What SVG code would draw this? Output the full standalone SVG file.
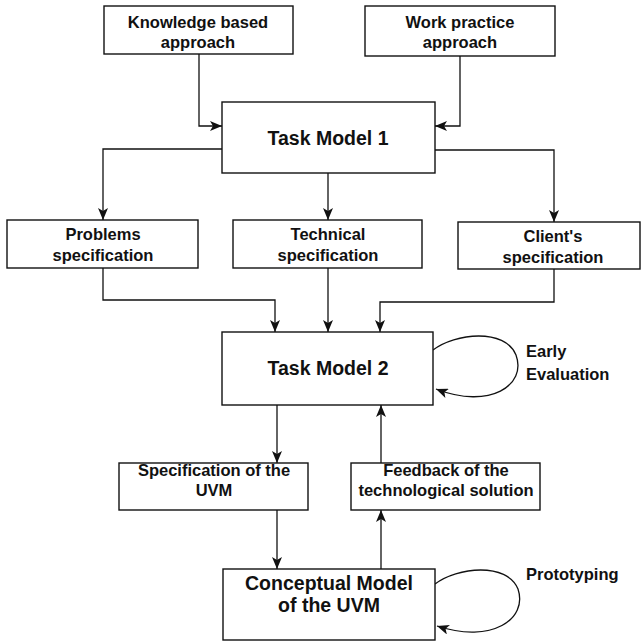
<svg xmlns="http://www.w3.org/2000/svg" width="643" height="641" viewBox="0 0 643 641">
  <style>
    .box { fill: #ffffff; stroke: #111; stroke-width: 1.4; }
    .lbl { font-family: "Liberation Sans", Arial, Helvetica, sans-serif; font-weight: bold; font-size: 16.5px; fill: #111; text-anchor: middle; }
    .big { font-size: 19.5px; }
    .side { text-anchor: start; }
    .wire { fill: none; stroke: #111; stroke-width: 1.3; }
  </style>
  <defs>
    <marker id="arr" viewBox="0 0 12 10" refX="12" refY="5" markerWidth="12" markerHeight="10" orient="auto" markerUnits="userSpaceOnUse">
      <path d="M0,0 L12,5 L0,10 L3,5 z" fill="#111"/>
    </marker>
  </defs>
  <rect width="643" height="641" fill="#ffffff"/>

  <!-- connectors -->
  <g id="connectors">
    <path class="wire" d="M199,54 V126 H222" marker-end="url(#arr)"/>
    <path class="wire" d="M460,56 V126 H435" marker-end="url(#arr)"/>
    <path class="wire" d="M222,149 H103 V220" marker-end="url(#arr)"/>
    <path class="wire" d="M328,173 V220" marker-end="url(#arr)"/>
    <path class="wire" d="M435,150 H554 V222" marker-end="url(#arr)"/>
    <path class="wire" d="M103,268 V300 H275 V332" marker-end="url(#arr)"/>
    <path class="wire" d="M328,268 V332" marker-end="url(#arr)"/>
    <path class="wire" d="M554,269 V302 H380 V332" marker-end="url(#arr)"/>
    <path class="wire" d="M277,405 V463" marker-end="url(#arr)"/>
    <path class="wire" d="M381,463 V405" marker-end="url(#arr)"/>
    <path class="wire" d="M277,510 V569" marker-end="url(#arr)"/>
    <path class="wire" d="M381,569 V510" marker-end="url(#arr)"/>
    <!-- self loops -->
    <path class="wire" d="M433,350 C455,333 505,328 516,355 C527,385 490,410 436,389" marker-end="url(#arr)"/>
    <path class="wire" d="M435,584 C457,567 507,562 518,589 C528,619 492,644 437,626" marker-end="url(#arr)"/>
  </g>

  <g id="knowledge">
    <rect class="box" x="104" y="6" width="189" height="48"/>
    <text class="lbl" x="198" y="28">Knowledge based</text>
    <text class="lbl" x="198" y="48">approach</text>
  </g>
  <g id="workpractice">
    <rect class="box" x="365" y="6" width="190" height="50"/>
    <text class="lbl" x="460" y="28">Work practice</text>
    <text class="lbl" x="460" y="48">approach</text>
  </g>
  <g id="taskmodel1">
    <rect class="box" x="222" y="102" width="213" height="71"/>
    <text class="lbl big" x="328" y="145">Task Model 1</text>
  </g>
  <g id="problems">
    <rect class="box" x="7" y="220" width="191" height="48"/>
    <text class="lbl" x="103" y="240">Problems</text>
    <text class="lbl" x="103" y="261">specification</text>
  </g>
  <g id="technical">
    <rect class="box" x="233" y="220" width="189" height="48"/>
    <text class="lbl" x="328" y="240">Technical</text>
    <text class="lbl" x="328" y="261">specification</text>
  </g>
  <g id="clients">
    <rect class="box" x="458" y="222" width="182" height="47"/>
    <text class="lbl" x="553" y="242">Client's</text>
    <text class="lbl" x="553" y="263">specification</text>
  </g>
  <g id="taskmodel2">
    <rect class="box" x="222" y="332" width="211" height="73"/>
    <text class="lbl big" x="328" y="375">Task Model 2</text>
  </g>
  <g id="early">
    <text class="lbl side" x="526" y="357">Early</text>
    <text class="lbl side" x="526" y="380">Evaluation</text>
  </g>
  <g id="specuvm">
    <rect class="box" x="119" y="463" width="189" height="47"/>
    <text class="lbl" x="214" y="476">Specification of the</text>
    <text class="lbl" x="214" y="496">UVM</text>
  </g>
  <g id="feedback">
    <rect class="box" x="351" y="463" width="189" height="47"/>
    <text class="lbl" x="446" y="476">Feedback of the</text>
    <text class="lbl" x="446" y="496">technological solution</text>
  </g>
  <g id="conceptual">
    <rect class="box" x="223" y="569" width="212" height="71"/>
    <text class="lbl big" x="329" y="590">Conceptual Model</text>
    <text class="lbl big" x="329" y="612">of the UVM</text>
  </g>
  <g id="prototyping">
    <text class="lbl side" x="526" y="580">Prototyping</text>
  </g>
</svg>
